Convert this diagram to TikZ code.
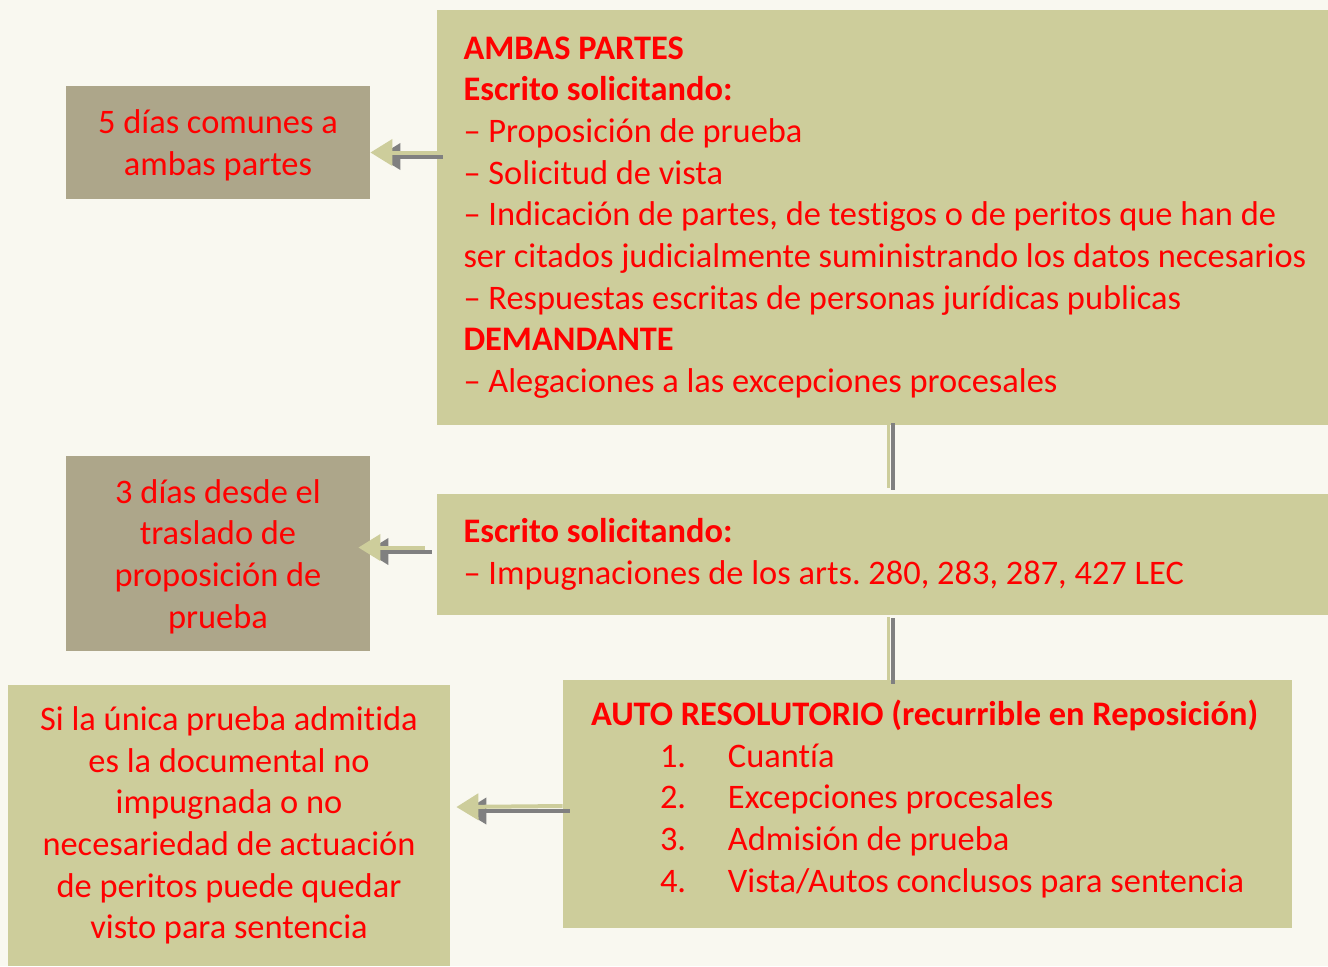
\documentclass[tikz,border=0pt]{standalone}
\usepackage{fontspec}
\setmainfont[Ligatures={NoCommon,NoRare,NoContextual},Contextuals=NoAlternate,RawFeature={-liga;-clig;-calt;-dlig}]{Carlito}
\usetikzlibrary{arrows.meta,calc}
\definecolor{olivefill}{RGB}{205,205,155}
\definecolor{tanfill}{RGB}{173,166,138}
\definecolor{bgcream}{RGB}{249,248,240}
\definecolor{shadegray}{RGB}{128,128,128}
\frenchspacing

\begin{document}
\begin{tikzpicture}[x=0.5pt,y=-0.5pt,>=Stealth,
  boxtext/.style={text=red,inner sep=0pt,font=\fontsize{17.2pt}{20.85pt}\selectfont},
  olivebox/.style={boxtext,fill=olivefill},
  tanbox/.style={boxtext,fill=tanfill,align=center},
  arrowolive/.style={draw=olivefill,line width=2pt,-{Triangle[length=11pt,width=13pt]}},
  arrowshade/.style={draw=shadegray,line width=2pt,-{Triangle[length=11pt,width=13pt]}},
  connolive/.style={draw=olivefill,line width=1.5pt},
  connshade/.style={draw=shadegray,line width=2pt}]
  % Background
  \useasboundingbox[fill=bgcream] (0,0) rectangle (1328,966);

  % Boxes on the right
  \node[olivebox,minimum width=445.5pt,minimum height=207.5pt,text width=419pt,inner xsep=13.25pt,align=flush left]
    (partes) at (882.5,217.5) {\textbf{AMBAS PARTES}\\
      \textbf{Escrito solicitando:}\\
      – Proposición de prueba\\
      – Solicitud de vista\\
      – Indicación de partes, de testigos o de peritos que han de\\
      \mbox{ser citados judicialmente suministrando los datos necesarios}\\
      – Respuestas escritas de personas jurídicas publicas\\
      \textbf{DEMANDANTE}\\
      – Alegaciones a las excepciones procesales};
  \node[olivebox,minimum width=445.5pt,minimum height=60.5pt,text width=419pt,inner xsep=13.25pt,align=flush left]
    (escrito) at (882.5,554.5) {\textbf{Escrito solicitando:}\\
      – Impugnaciones de los arts. 280, 283, 287, 427 LEC};
  \node[olivebox,minimum width=364.5pt,minimum height=124pt,text width=336.5pt,inner xsep=14pt,align=flush left]
    (auto) at (927.5,804) {\mbox{\textbf{AUTO RESOLUTORIO (recurrible en Reposición)}}\\
      \hspace*{34.5pt}\makebox[34pt][l]{1.}Cuantía\\
      \hspace*{34.5pt}\makebox[34pt][l]{2.}Excepciones procesales\\
      \hspace*{34.5pt}\makebox[34pt][l]{3.}Admisión de prueba\\
      \hspace*{34.5pt}\makebox[34pt][l]{4.}Vista/Autos conclusos para sentencia\rule[-8pt]{0pt}{8pt}};

  % Boxes on the left
  \node[tanbox,minimum width=152pt,minimum height=56.5pt]
    (cinco) at (218,142.5) {\rule{0pt}{15pt}5 días comunes a\\ambas partes};
  \node[tanbox,minimum width=152pt,minimum height=97.5pt]
    (tres) at (218,553.5) {\rule{0pt}{15pt}3 días desde el\\traslado de\\proposición de\\prueba};
  \node[olivebox,align=center,minimum width=221pt,minimum height=140.5pt]
    (visto) at (229,825.5) {Si la única prueba admitida\\es la documental no\\impugnada o no\\necesariedad de actuación\\de peritos puede quedar\\visto para sentencia};

  % Arrows to the left
  \draw[arrowshade] ($(partes.west |- cinco.east)+(6,14)$) -- ($(cinco.east)+(8,14)$);
  \draw[arrowolive] ($(partes.west |- cinco.east)+(8,10)$) -- ($(cinco.east)+(0,10)$);
  \draw[arrowshade] ($(escrito.west |- tres.east)+(-5,-2)$) -- ($(tres.east)+(-4,-2)$);
  \draw[arrowolive] ($(escrito.west |- tres.east)+(-12,-6)$) -- ($(tres.east)+(-12,-6)$);
  \draw[arrowshade] ($(auto.west)+(7,7)$) -- ($(visto.east |- auto.west)+(14,7)$);
  \draw[arrowolive] ($(auto.west)+(0,2)$) -- ($(visto.east |- auto.west)+(6,3)$);

  % Vertical connectors
  \draw[connolive] ($(partes.south)+(5.5,0)$) -- ($(escrito.north)+(5.5,-6)$);
  \draw[connshade] ($(partes.south)+(10,-2)$) -- ($(escrito.north)+(10,-4)$);
  \draw[connolive] ($(escrito.south)+(6,2)$) -- ($(escrito.south |- auto.north)+(6,0)$);
  \draw[connshade] ($(escrito.south)+(10,3)$) -- ($(escrito.south |- auto.north)+(10,4)$);
\end{tikzpicture}
\end{document}
